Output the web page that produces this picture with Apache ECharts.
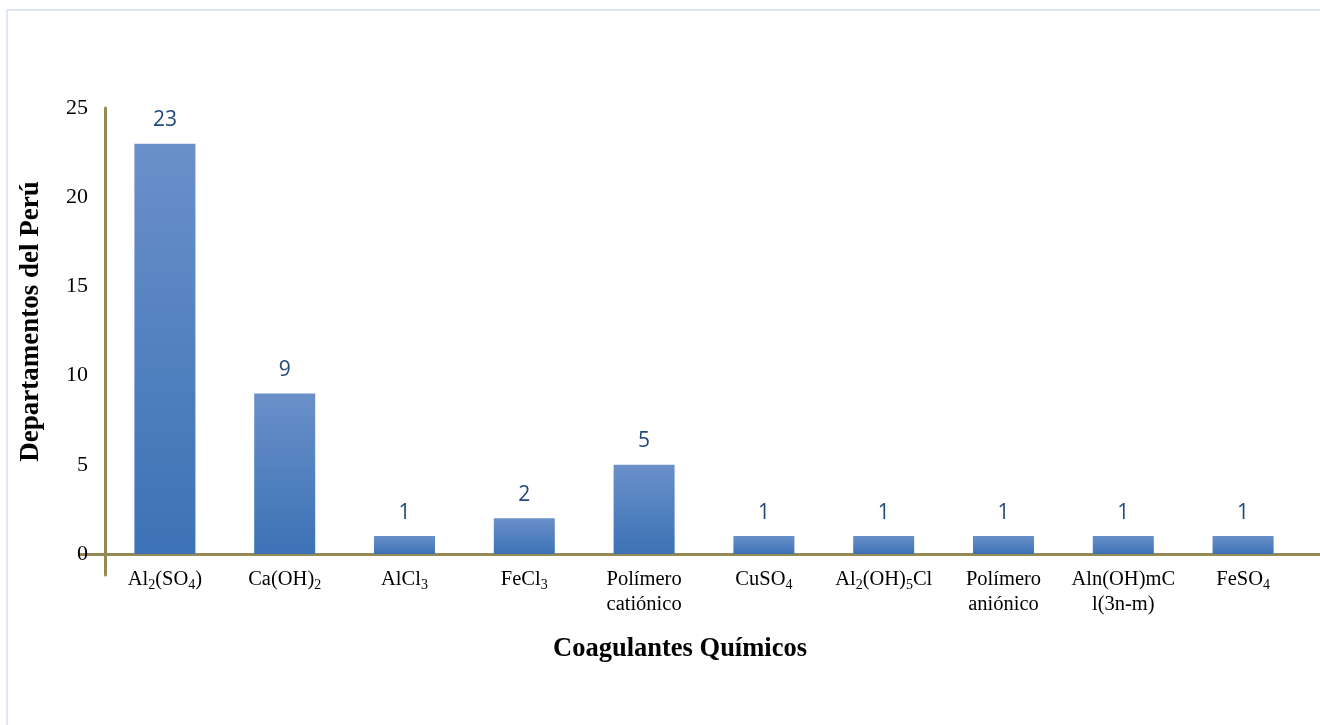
<!DOCTYPE html>
<html>
<head>
<meta charset="utf-8">
<script src="https://cdn.jsdelivr.net/npm/echarts@6/dist/echarts.min.js"></script>
<style>
  html, body { margin: 0; padding: 0; background: #fff; }
  #frame { position: absolute; left: 6px; top: 9px; width: 1320px; height: 720px;
           border-left: 2px solid #DCE6F4; border-top: 2px solid #DCE6F4; }
  #chart-container { position: absolute; left: 0; top: 0; width: 1320px; height: 725px; }
</style>
</head>
<body>
<div id="frame"></div>
<div id="chart-container"></div>
<script>
  // categorias y valores
  var coagulantes = ['Al2(SO4)', 'Ca(OH)2', 'AlCl3', 'FeCl3', 'Polímero\ncatiónico',
                     'CuSO4', 'Al2(OH)5Cl', 'Polímero\naniónico', 'Aln(OH)mC\nl(3n-m)', 'FeSO4'];
  var departamentos = [23, 9, 1, 2, 5, 1, 1, 1, 1, 1];
  var yTicks = [0, 5, 10, 15, 20, 25];

  var axisColor = '#948A54';

  // numeros despues de letra o ")" van como subindice
  function subindices(txt) {
    return txt.replace(/([A-Za-z\)])(\d)/g, '$1{sub|$2}');
  }

  var chart = echarts.init(document.getElementById('chart-container'));

  var options = {
    animation: false,
    grid: [
      { left: 105, right: 17, top: 108, bottom: 150 },
      { left: 80, right: 0, top: 108, bottom: 170.5 }
    ],
    xAxis: [
      {
        type: 'category',
        gridIndex: 0,
        data: coagulantes,
        axisLine: { onZero: true, lineStyle: { color: axisColor, width: 3 } },
        axisTick: { show: false },
        axisLabel: {
          interval: 0,
          margin: -8,
          color: '#000',
          fontFamily: 'Liberation Serif',
          fontSize: 20.5,
          lineHeight: 25,
          formatter: function (v) { return subindices(v); },
          rich: {
            sub: { fontSize: 14, fontFamily: 'Liberation Serif', color: '#000', lineHeight: 14, verticalAlign: 'bottom' }
          }
        },
        name: 'Coagulantes Químicos',
        nameLocation: 'middle',
        nameGap: 61,
        nameTextStyle: {
          color: '#000', fontFamily: 'Liberation Serif', fontWeight: 'bold', fontSize: 26.5,
          padding: [0, 48, 0, 0]
        }
      },
      {
        type: 'value',
        gridIndex: 1,
        min: 0,
        max: 1,
        position: 'bottom',
        axisLine: { show: true, onZero: false, lineStyle: { color: axisColor, width: 3 } },
        axisTick: { show: false },
        axisLabel: { show: false },
        splitLine: { show: false }
      }
    ],
    yAxis: [
      {
        type: 'value',
        gridIndex: 0,
        min: -1.18,
        max: 25,
        axisLine: { show: true, lineStyle: { color: axisColor, width: 3 } },
        axisTick: { show: false },
        splitLine: { show: false },
        axisLabel: {
          customValues: yTicks,
          margin: 17,
          color: '#000',
          fontFamily: 'Liberation Serif',
          fontSize: 22
        },
        name: 'Departamentos del Perú',
        nameLocation: 'middle',
        nameRotate: 90,
        nameGap: 60,
        nameTextStyle: {
          color: '#000', fontFamily: 'Liberation Serif', fontWeight: 'bold', fontSize: 27,
          padding: [0, 0, 0, 40]
        }
      },
      {
        type: 'value',
        gridIndex: 1,
        min: 0,
        max: 1,
        show: false
      }
    ],
    series: [
      {
        type: 'bar',
        xAxisIndex: 0,
        yAxisIndex: 0,
        data: departamentos,
        barWidth: 61,
        itemStyle: {
          color: new echarts.graphic.LinearGradient(0, 0, 0, 1, [
            { offset: 0, color: '#6A90C9' },
            { offset: 1, color: '#3C72B6' }
          ])
        },
        label: {
          show: true,
          position: 'top',
          distance: 13,
          color: '#1F497D',
          fontFamily: 'Open Sans',
          fontSize: 21
        }
      }
    ]
  };

  chart.setOption(options);
</script>
</body>
</html>
